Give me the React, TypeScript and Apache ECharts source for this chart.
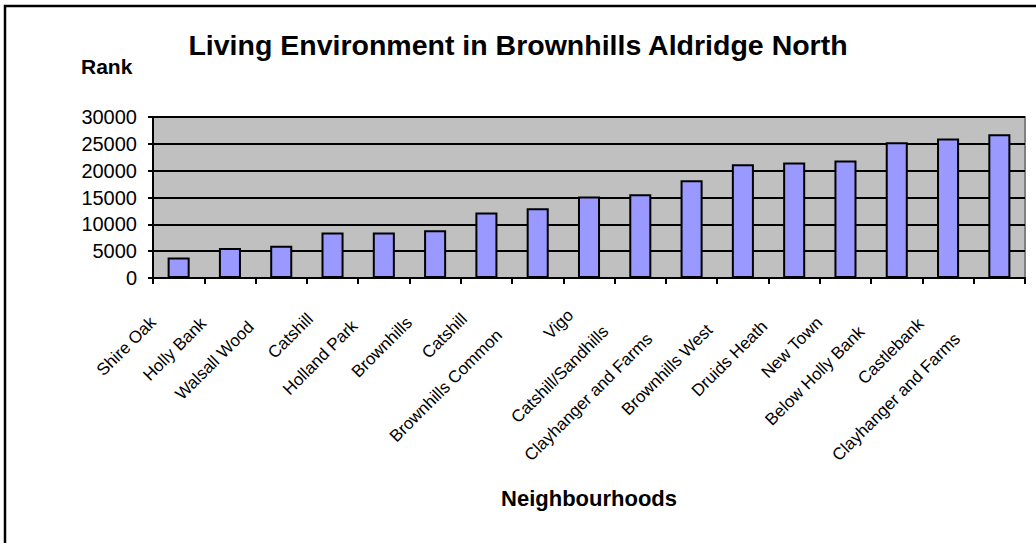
import React, { useEffect, useRef } from "react";
import * as echarts from "echarts";

// Neighbourhoods in ascending order of their Living Environment rank
const neighbourhoods = [
  "Shire Oak",
  "Holly Bank",
  "Walsall Wood",
  "Catshill",
  "Holland Park",
  "Brownhills",
  "Catshill",
  "Brownhills Common",
  "Vigo",
  "Catshill/Sandhills",
  "Clayhanger and Farms",
  "Brownhills West",
  "Druids Heath",
  "New Town",
  "Below Holly Bank",
  "Castlebank",
  "Clayhanger and Farms",
];

const ranks = [
  3800, 5600, 6000, 8500, 8500, 8900, 12200, 13000, 15200, 15600, 18200, 21200,
  21500, 21900, 25300, 26000, 26800,
];

const rankMin = 0;
const rankMax = 30000;
const rankStep = 5000;

const FONT = "Arial, 'Liberation Sans', sans-serif";
const LABEL_SIZE = 17;

// Longer category labels sit further down along their slant
function labelPadding(text: string): number {
  const ctx = document.createElement("canvas").getContext("2d");
  let w = text.length * LABEL_SIZE * 0.5;
  if (ctx) {
    ctx.font = `${LABEL_SIZE}px ${FONT}`;
    w = ctx.measureText(text).width;
  }
  return 18 + 0.24 * w;
}

export default function App() {
  const ref = useRef<HTMLDivElement>(null);

  useEffect(() => {
    if (!ref.current) return;
    const chart = echarts.init(ref.current, undefined, { renderer: "svg" });

    const categoryData = neighbourhoods.map((name) => ({
      value: name,
      textStyle: { padding: [0, labelPadding(name), 0, 0] },
    }));

    chart.setOption({
      animation: false,
      backgroundColor: "#ffffff",
      title: [
        {
          text: "Living Environment in Brownhills Aldridge North",
          left: "center",
          top: 25,
          textStyle: {
            fontFamily: FONT,
            fontSize: 28.5,
            fontWeight: "bold",
            color: "#000",
          },
        },
        {
          text: "Rank",
          left: 76,
          top: 51,
          textStyle: {
            fontFamily: FONT,
            fontSize: 21,
            fontWeight: "bold",
            color: "#000",
          },
        },
      ],
      grid: {
        left: 153,
        right: 11,
        top: 117,
        bottom: 265,
        show: true,
        backgroundColor: "#C0C0C0",
        borderColor: "#808080",
        borderWidth: 2,
      },
      xAxis: {
        type: "category",
        data: categoryData,
        name: "Neighbourhoods",
        nameLocation: "middle",
        nameGap: 209,
        nameTextStyle: {
          fontFamily: FONT,
          fontSize: 22,
          fontWeight: "bold",
          color: "#000",
        },
        axisLine: { lineStyle: { color: "#000", width: 2 } },
        axisTick: {
          show: true,
          length: 6,
          lineStyle: { color: "#000", width: 2 },
        },
        axisLabel: {
          interval: 0,
          rotate: 45,
          margin: 16,
          fontFamily: FONT,
          fontSize: LABEL_SIZE,
          color: "#000",
        },
        splitLine: { show: false },
      },
      yAxis: {
        type: "value",
        min: rankMin,
        max: rankMax,
        interval: rankStep,
        axisLine: { show: true, lineStyle: { color: "#000", width: 2 } },
        axisTick: {
          show: true,
          length: 5,
          lineStyle: { color: "#000", width: 2 },
        },
        axisLabel: {
          margin: 16,
          fontFamily: FONT,
          fontSize: 20,
          color: "#000",
          formatter: (v: number) => String(v),
        },
        splitLine: { lineStyle: { color: "#000", width: 2 } },
      },
      series: [
        {
          type: "bar",
          data: ranks,
          barWidth: "43%",
          itemStyle: {
            color: "#9999FF",
            borderColor: "#000",
            borderWidth: 2,
          },
        },
      ],
      graphic: [
        {
          type: "rect",
          shape: { x: 5, y: 6, width: 1100, height: 600 },
          style: { fill: "none", stroke: "#000", lineWidth: 2.5 },
          silent: true,
        },
      ],
    });

    return () => chart.dispose();
  }, []);

  return (
    <div
      ref={ref}
      style={{ position: "absolute", left: 0, top: 0, width: 1036, height: 543 }}
    />
  );
}
